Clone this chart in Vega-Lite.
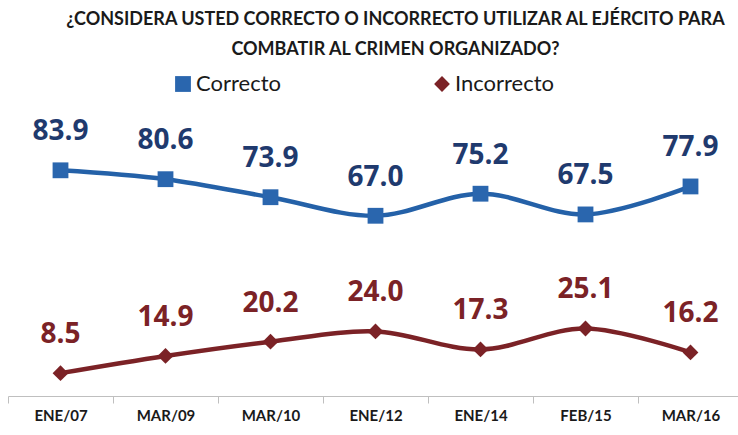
{
  "$schema": "https://vega.github.io/schema/vega-lite/v6.json",
  "width": 735,
  "height": 269,
  "autosize": {"type": "none"},
  "padding": {"left": 8, "top": 127, "right": 0, "bottom": 39},
  "background": "white",
  "title": {
    "text": ["¿CONSIDERA USTED CORRECTO O INCORRECTO UTILIZAR AL EJÉRCITO PARA", "COMBATIR AL CRIMEN ORGANIZADO?"],
    "font": "Lato",
    "fontSize": 18,
    "fontWeight": "bold",
    "color": "#1a1a1a",
    "lineHeight": 30,
    "anchor": "middle",
    "frame": "group",
    "dx": 20,
    "offset": 14
  },
  "data": {
    "values": [
      {"fecha": "Ene/07", "serie": "Correcto", "valor": 83.9},
      {"fecha": "Mar/09", "serie": "Correcto", "valor": 80.6},
      {"fecha": "Mar/10", "serie": "Correcto", "valor": 73.9},
      {"fecha": "Ene/12", "serie": "Correcto", "valor": 67.0},
      {"fecha": "Ene/14", "serie": "Correcto", "valor": 75.2},
      {"fecha": "Feb/15", "serie": "Correcto", "valor": 67.5},
      {"fecha": "Mar/16", "serie": "Correcto", "valor": 77.9},
      {"fecha": "Ene/07", "serie": "Incorrecto", "valor": 8.5},
      {"fecha": "Mar/09", "serie": "Incorrecto", "valor": 14.9},
      {"fecha": "Mar/10", "serie": "Incorrecto", "valor": 20.2},
      {"fecha": "Ene/12", "serie": "Incorrecto", "valor": 24.0},
      {"fecha": "Ene/14", "serie": "Incorrecto", "valor": 17.3},
      {"fecha": "Feb/15", "serie": "Incorrecto", "valor": 25.1},
      {"fecha": "Mar/16", "serie": "Incorrecto", "valor": 16.2}
    ]
  },
  "encoding": {
    "x": {
      "field": "fecha",
      "type": "ordinal",
      "sort": null,
      "scale": {"type": "band", "paddingInner": 0, "paddingOuter": 0},
      "axis": {
        "title": null,
        "labelAngle": 0,
        "labelExpr": "upper(datum.label)",
        "labelFont": "Lato",
        "labelFontSize": 15,
        "labelFontWeight": "bold",
        "labelColor": "#1a1a1a",
        "labelPadding": 5,
        "domainColor": "#bfbfbf",
        "tickColor": "#bfbfbf",
        "tickBand": "extent",
        "tickSize": 7,
        "grid": false
      }
    },
    "y": {
      "field": "valor",
      "type": "quantitative",
      "scale": {"domain": [0, 100]},
      "axis": null
    }
  },
  "layer": [
    {
      "mark": {"type": "line", "interpolate": "catmull-rom", "strokeWidth": 4.5},
      "encoding": {
        "stroke": {
          "field": "serie",
          "type": "nominal",
          "scale": {"domain": ["Correcto", "Incorrecto"], "range": ["#2461A8", "#7B2226"]},
          "legend": null
        }
      }
    },
    {
      "mark": {"type": "point", "filled": true, "opacity": 1, "size": 250},
      "encoding": {
        "color": {
          "field": "serie",
          "type": "nominal",
          "title": null,
          "scale": {"domain": ["Correcto", "Incorrecto"], "range": ["#2A66AE", "#7B2226"]},
          "legend": {
            "orient": "none",
            "direction": "horizontal",
            "legendX": 164,
            "legendY": -54,
            "labelFont": "Lato",
            "labelFontSize": 22,
            "labelColor": "#1a1a1a",
            "symbolSize": 250,
            "columnPadding": 150,
            "labelOffset": 2
          }
        },
        "shape": {
          "field": "serie",
          "type": "nominal",
          "title": null,
          "scale": {"domain": ["Correcto", "Incorrecto"], "range": ["square", "diamond"]},
          "legend": {
            "orient": "none",
            "direction": "horizontal",
            "legendX": 164,
            "legendY": -54,
            "labelFont": "Lato",
            "labelFontSize": 22,
            "labelColor": "#1a1a1a",
            "symbolSize": 250,
            "columnPadding": 150,
            "labelOffset": 2
          }
        }
      }
    },
    {
      "mark": {"type": "text", "dy": -38, "font": "Open Sans", "fontSize": 28, "fontWeight": "bold"},
      "encoding": {
        "text": {"field": "valor", "type": "quantitative", "format": ".1f"},
        "fill": {
          "condition": {"test": "datum.serie === 'Correcto'", "value": "#1F3A6E"},
          "value": "#7B2226"
        }
      }
    }
  ],
  "resolve": {"legend": {"color": "independent", "shape": "independent"}},
  "config": {"view": {"stroke": null}}
}
